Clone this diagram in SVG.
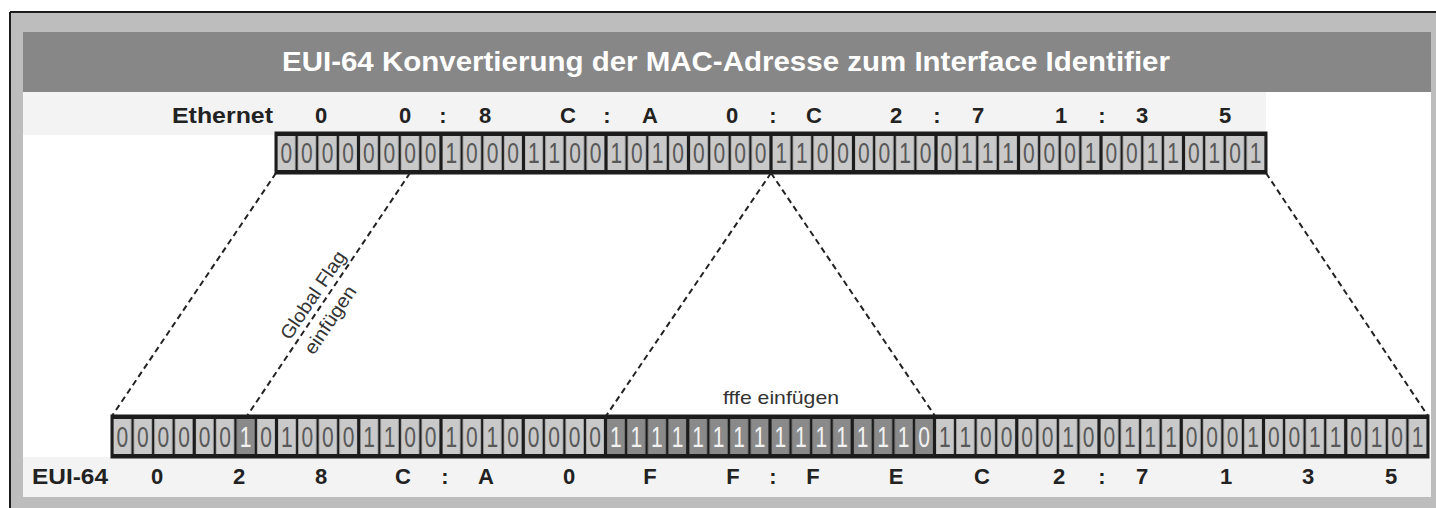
<svg xmlns="http://www.w3.org/2000/svg" width="1436" height="508" viewBox="0 0 1436 508">
  <style>
    .hex { font-family: "Liberation Sans", Arial, sans-serif; font-weight: bold; font-size: 22px; fill: #222; text-anchor: middle; }
    .bit { font-family: "Liberation Sans", Arial, sans-serif; font-size: 21px; fill: #585858; text-anchor: middle; }
    .bitInv { fill: #f2f2f2; }
    .lbl { font-family: "Liberation Sans", Arial, sans-serif; font-weight: bold; font-size: 22px; fill: #222; }
    .note { font-family: "Liberation Sans", Arial, sans-serif; font-size: 19px; fill: #333; text-anchor: middle; }
    .sep { stroke: #1c1c1c; stroke-width: 3; }
    .frame { fill: none; stroke: #1c1c1c; stroke-width: 3; }
    .dash { stroke: #222; stroke-width: 2; stroke-dasharray: 6 4; fill: none; }
  </style>
  <defs>
    <!-- one bit cell of the 48-bit MAC row -->
    <pattern id="cellTop" patternUnits="userSpaceOnUse" x="276" y="133" width="20.625" height="40">
      <rect width="20.625" height="40" fill="#1c1c1c"/>
      <rect x="1.2" y="3" width="18.2" height="34" fill="#c9c9c9"/>
    </pattern>
    <!-- one bit cell of the 64-bit EUI row -->
    <pattern id="cellBot" patternUnits="userSpaceOnUse" x="112" y="416" width="20.5625" height="41">
      <rect width="20.5625" height="41" fill="#1c1c1c"/>
      <rect x="1.2" y="3" width="18.16" height="35" fill="#c9c9c9"/>
    </pattern>
    <!-- inserted bits are shaded dark -->
    <pattern id="cellDark" patternUnits="userSpaceOnUse" x="112" y="416" width="20.5625" height="41">
      <rect width="20.5625" height="41" fill="#1c1c1c"/>
      <rect x="1.2" y="3" width="18.16" height="35" fill="#8a8a8a"/>
    </pattern>
  </defs>

  <!-- frame and panels -->
  <g id="background">
    <rect x="0" y="0" width="1436" height="508" fill="#ffffff"/>
    <rect x="10" y="12" width="1430" height="500" fill="#bdbdbd"/>
    <line x1="10" y1="12" x2="1436" y2="12" stroke="#1c1c1c" stroke-width="2"/>
    <line x1="10" y1="12" x2="10" y2="508" stroke="#1c1c1c" stroke-width="2"/>
    <rect x="23" y="32" width="1408" height="465" fill="#ffffff"/>
    <rect x="23" y="92" width="1243" height="43" fill="#f3f3f3"/>
    <rect x="23" y="457" width="1408" height="40" fill="#f3f3f3"/>
  </g>

  <g id="title">
    <rect x="23" y="32" width="1408" height="60" fill="#878787"/>
    <text x="726" y="71" font-family="'Liberation Sans', Arial, sans-serif" font-weight="bold" font-size="27" fill="#ffffff" text-anchor="middle" textLength="888" lengthAdjust="spacingAndGlyphs">EUI-64 Konvertierung der MAC-Adresse zum Interface Identifier</text>
  </g>

  <!-- Ethernet MAC address -->
  <g id="mac-label">
    <text class="lbl" x="172" y="123" textLength="101" lengthAdjust="spacingAndGlyphs">Ethernet</text>
    <text class="hex" y="123" x="321 405 443 485 568 607 650 732 773 814 896 937 978 1061 1102 1142 1225">00:8C:A0:C2:71:35</text>
  </g>

  <g id="mac-bits">
    <rect x="276" y="133" width="990" height="40" fill="url(#cellTop)"/>
    <g class="sep">
      <line x1="358.5" y1="133" x2="358.5" y2="173"/>
      <line x1="441" y1="133" x2="441" y2="173"/>
      <line x1="523.5" y1="133" x2="523.5" y2="173"/>
      <line x1="606" y1="133" x2="606" y2="173"/>
      <line x1="688.5" y1="133" x2="688.5" y2="173"/>
      <line x1="771" y1="133" x2="771" y2="173"/>
      <line x1="853.5" y1="133" x2="853.5" y2="173"/>
      <line x1="936" y1="133" x2="936" y2="173"/>
      <line x1="1018.5" y1="133" x2="1018.5" y2="173"/>
      <line x1="1101" y1="133" x2="1101" y2="173"/>
      <line x1="1183.5" y1="133" x2="1183.5" y2="173"/>
    </g>
    <rect class="frame" x="276" y="133" width="990" height="40"/>
    <g transform="translate(0,163) scale(1,1.38)">
      <text class="bit" y="0" x="286.3 306.9 327.6 348.2 368.8 389.4 410.1 430.7 451.3 471.9 492.6 513.2 533.8 554.4 575.1 595.7 616.3 636.9 657.6 678.2 698.8 719.4 740.1 760.7 781.3 801.9 822.6 843.2 863.8 884.4 905.1 925.7 946.3 966.9 987.6 1008.2 1028.8 1049.4 1070.1 1090.7 1111.3 1131.9 1152.6 1173.2 1193.8 1214.4 1235.1 1255.7">000000001000110010100000110000100111000100110101</text>
    </g>
  </g>

  <!-- EUI-64 interface identifier -->
  <g id="eui-bits">
    <rect x="112" y="416" width="1316" height="41" fill="url(#cellBot)"/>
    <rect x="235.375" y="416" width="20.5625" height="41" fill="url(#cellDark)"/>
    <rect x="605.5" y="416" width="329" height="41" fill="url(#cellDark)"/>
    <g class="sep">
      <line x1="194.25" y1="416" x2="194.25" y2="457"/>
      <line x1="276.5" y1="416" x2="276.5" y2="457"/>
      <line x1="358.75" y1="416" x2="358.75" y2="457"/>
      <line x1="441" y1="416" x2="441" y2="457"/>
      <line x1="523.25" y1="416" x2="523.25" y2="457"/>
      <line x1="605.5" y1="416" x2="605.5" y2="457"/>
      <line x1="687.75" y1="416" x2="687.75" y2="457"/>
      <line x1="770" y1="416" x2="770" y2="457"/>
      <line x1="852.25" y1="416" x2="852.25" y2="457"/>
      <line x1="934.5" y1="416" x2="934.5" y2="457"/>
      <line x1="1016.75" y1="416" x2="1016.75" y2="457"/>
      <line x1="1099" y1="416" x2="1099" y2="457"/>
      <line x1="1181.25" y1="416" x2="1181.25" y2="457"/>
      <line x1="1263.5" y1="416" x2="1263.5" y2="457"/>
      <line x1="1345.75" y1="416" x2="1345.75" y2="457"/>
    </g>
    <rect class="frame" x="112" y="416" width="1316" height="41"/>
    <g transform="translate(0,447) scale(1,1.38)">
      <text class="bit" y="0" x="122.3 142.8 163.4 184.0 204.5 225.1">000000</text>
      <text class="bit" y="0" x="266.2 286.8 307.3 327.9 348.5 369.0 389.6 410.2 430.7 451.3 471.8 492.4 513.0 533.5 554.1 574.7 595.2">01000110010100000</text>
      <text class="bit" y="0" x="944.8 965.3 985.9 1006.5 1027.0 1047.6 1068.2 1088.7 1109.3 1129.8 1150.4 1171.0 1191.5 1212.1 1232.7 1253.2 1273.8 1294.3 1314.9 1335.5 1356.0 1376.6 1397.2 1417.7">110000100111000100110101</text>
      <text class="bit bitInv" y="0" x="245.7">1</text>
      <text class="bit bitInv" y="0" x="615.8 636.3 656.9 677.5 698.0 718.6 739.2 759.7 780.3 800.8 821.4 842.0 862.5 883.1 903.7 924.2">1111111111111110</text>
    </g>
  </g>

  <g id="eui-label">
    <text class="lbl" x="32" y="484" textLength="76" lengthAdjust="spacingAndGlyphs">EUI-64</text>
    <text class="hex" y="484" x="157 239 321 403 445 486 569 650 733 773 813 896 982 1059 1102 1142 1226 1308 1391">028C:A0FF:FEC2:7135</text>
  </g>

  <!-- mapping lines between the two rows -->
  <g id="connectors">
    <line class="dash" x1="276" y1="173" x2="112" y2="416"/>
    <line class="dash" x1="410" y1="173" x2="247" y2="416"/>
    <line class="dash" x1="771" y1="173" x2="606" y2="416"/>
    <line class="dash" x1="771" y1="173" x2="935" y2="416"/>
    <line class="dash" x1="1266" y1="173" x2="1428" y2="416"/>
  </g>

  <g id="global-flag-note" transform="translate(320,307) rotate(-56.1)">
    <text class="note" x="6" y="-6" textLength="102" lengthAdjust="spacingAndGlyphs">Global Flag</text>
    <text class="note" x="-5" y="22" textLength="78" lengthAdjust="spacingAndGlyphs">einfügen</text>
  </g>

  <g id="fffe-note">
    <text class="note" x="781" y="404" textLength="116" lengthAdjust="spacingAndGlyphs">fffe einfügen</text>
  </g>
</svg>
